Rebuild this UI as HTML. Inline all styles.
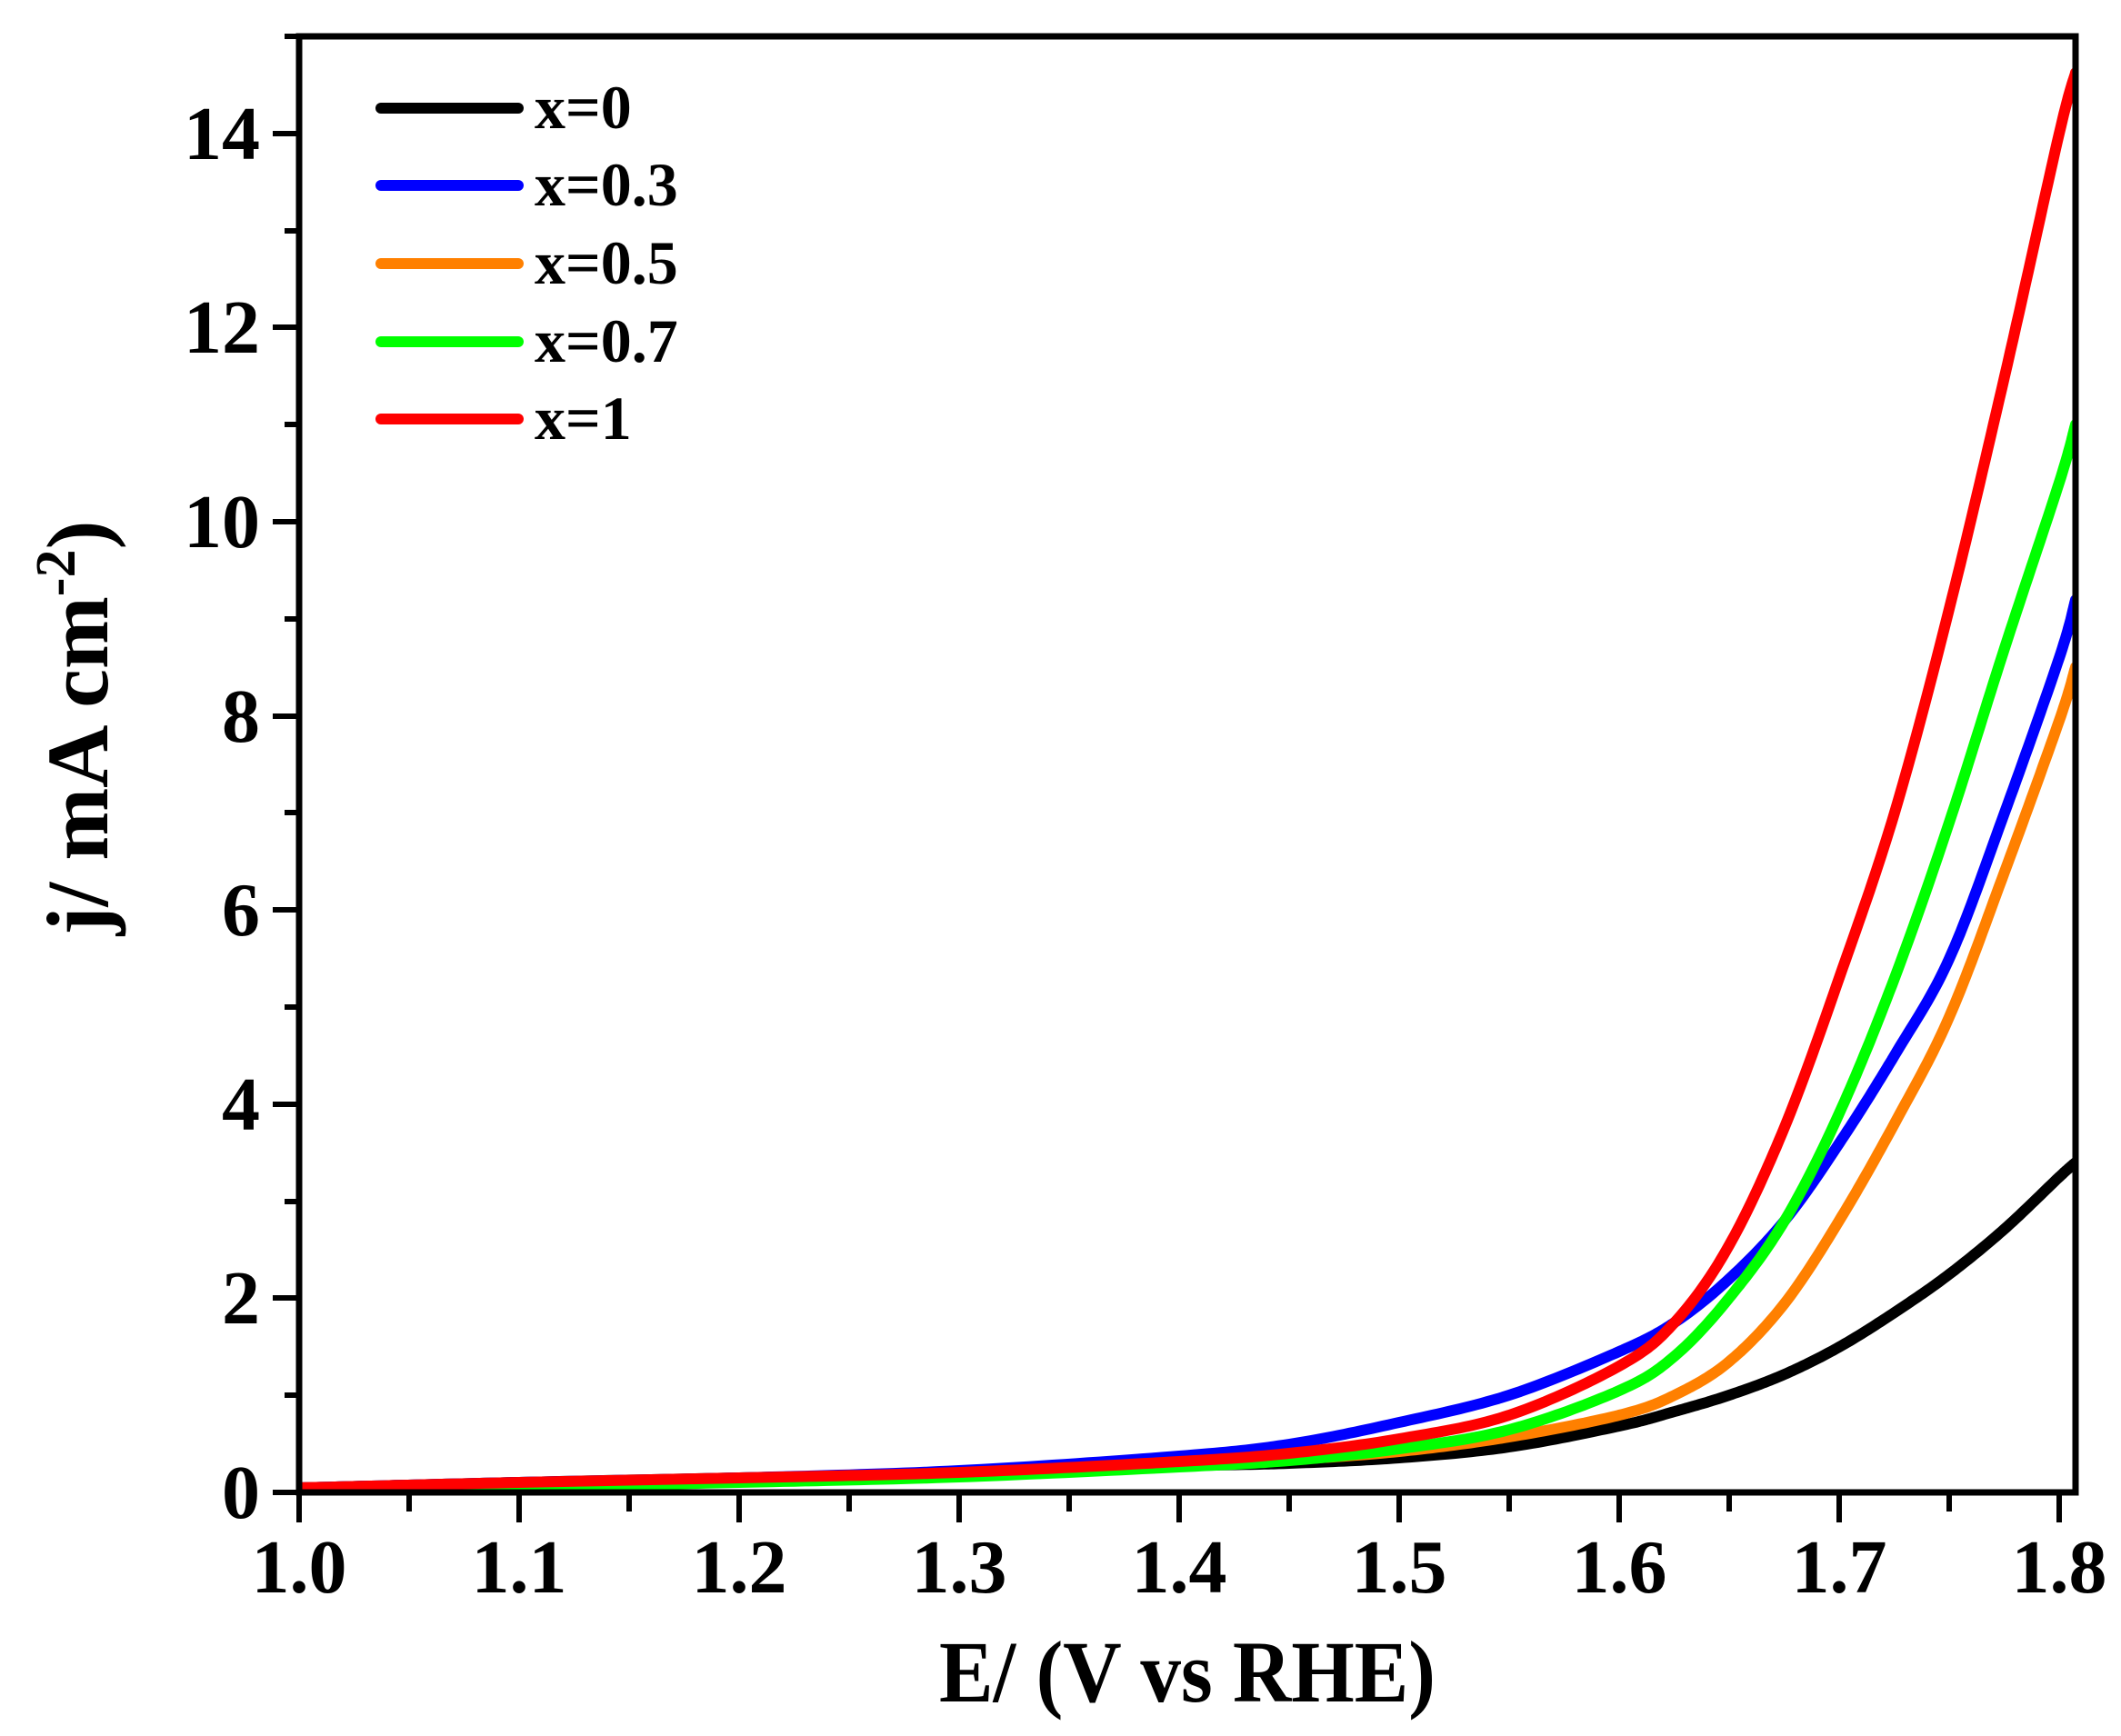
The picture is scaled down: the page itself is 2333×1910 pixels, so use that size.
<!DOCTYPE html>
<html><head><meta charset="utf-8"><style>
html,body{margin:0;padding:0;background:#fff;}
svg{display:block;}
text{font-family:"Liberation Serif",serif;font-weight:bold;fill:#000;}
</style></head><body>
<svg width="2333" height="1910" viewBox="0 0 2333 1910" xmlns="http://www.w3.org/2000/svg">
<defs><clipPath id="c"><rect x="329" y="40" width="1954" height="1602"/></clipPath></defs>
<g clip-path="url(#c)" fill="none" stroke-width="12" stroke-linejoin="round" stroke-linecap="round">
<polyline class="s" stroke="#000" points="329,1637 571,1631 813,1626 1055,1621 1297,1613 1418,1610 1539,1604 1660,1592 1781,1569 1842,1553 1902,1535 1963,1512 2023,1482 2084,1444 2144,1402 2205,1352 2265,1295 2283,1279"/>
<polyline class="s" stroke="#0000ff" points="329,1637 571,1631 813,1626 1055,1618 1297,1602 1418,1589 1539,1565 1660,1535 1781,1487 1842,1455 1902,1407 1963,1343 2023,1258 2084,1161 2144,1055 2205,894 2265,724 2283,660"/>
<polyline class="s" stroke="#ff8000" points="329,1637 571,1633 813,1629 1055,1623 1297,1612 1418,1606 1539,1597 1660,1581 1781,1557 1842,1535 1902,1498 1963,1434 2023,1343 2084,1236 2144,1119 2205,959 2265,793 2283,734"/>
<polyline class="s" stroke="#00ff00" points="329,1639 571,1636 813,1631 1055,1625 1297,1614 1418,1607 1539,1594 1660,1573 1781,1530 1842,1492 1902,1428 1963,1343 2023,1225 2084,1076 2144,905 2205,713 2265,531 2283,467"/>
<polyline class="s" stroke="#ff0000" points="329,1637 571,1631 813,1626 1055,1620 1297,1608 1418,1599 1539,1583 1660,1557 1781,1503 1842,1455 1902,1370 1963,1240 2023,1076 2084,894 2144,670 2205,414 2265,147 2283,80"/>
</g>
<rect x="329" y="40" width="1954" height="1602" fill="none" stroke="#000" stroke-width="7"/>
<g stroke="#000" stroke-width="6">
<line x1="329" y1="1642" x2="329" y2="1675"/><line x1="450" y1="1642" x2="450" y2="1663"/>
<line x1="571" y1="1642" x2="571" y2="1675"/><line x1="692" y1="1642" x2="692" y2="1663"/>
<line x1="813" y1="1642" x2="813" y2="1675"/><line x1="934" y1="1642" x2="934" y2="1663"/>
<line x1="1055" y1="1642" x2="1055" y2="1675"/><line x1="1176" y1="1642" x2="1176" y2="1663"/>
<line x1="1297" y1="1642" x2="1297" y2="1675"/><line x1="1418" y1="1642" x2="1418" y2="1663"/>
<line x1="1539" y1="1642" x2="1539" y2="1675"/><line x1="1660" y1="1642" x2="1660" y2="1663"/>
<line x1="1781" y1="1642" x2="1781" y2="1675"/><line x1="1902" y1="1642" x2="1902" y2="1663"/>
<line x1="2023" y1="1642" x2="2023" y2="1675"/><line x1="2144" y1="1642" x2="2144" y2="1663"/>
<line x1="2265" y1="1642" x2="2265" y2="1675"/>
<line x1="300" y1="1642" x2="329" y2="1642"/><line x1="313" y1="1535" x2="329" y2="1535"/>
<line x1="300" y1="1428" x2="329" y2="1428"/><line x1="313" y1="1322" x2="329" y2="1322"/>
<line x1="300" y1="1215" x2="329" y2="1215"/><line x1="313" y1="1108" x2="329" y2="1108"/>
<line x1="300" y1="1001" x2="329" y2="1001"/><line x1="313" y1="894" x2="329" y2="894"/>
<line x1="300" y1="788" x2="329" y2="788"/><line x1="313" y1="681" x2="329" y2="681"/>
<line x1="300" y1="574" x2="329" y2="574"/><line x1="313" y1="467" x2="329" y2="467"/>
<line x1="300" y1="360" x2="329" y2="360"/><line x1="313" y1="254" x2="329" y2="254"/>
<line x1="300" y1="147" x2="329" y2="147"/><line x1="313" y1="40" x2="329" y2="40"/>
</g>
<g font-size="84" text-anchor="middle">
<text x="329" y="1752">1.0</text><text x="571" y="1752">1.1</text><text x="813" y="1752">1.2</text>
<text x="1055" y="1752">1.3</text><text x="1297" y="1752">1.4</text><text x="1539" y="1752">1.5</text>
<text x="1781" y="1752">1.6</text><text x="2023" y="1752">1.7</text><text x="2265" y="1752">1.8</text>
</g>
<g font-size="84" text-anchor="end">
<text x="286" y="1670">0</text><text x="286" y="1456">2</text><text x="286" y="1243">4</text>
<text x="286" y="1029">6</text><text x="286" y="816">8</text><text x="286" y="602">10</text>
<text x="286" y="388">12</text><text x="286" y="175">14</text>
</g>
<text x="1306" y="1872" font-size="96" text-anchor="middle" textLength="546" lengthAdjust="spacingAndGlyphs">E/ (V vs RHE)</text>
<text transform="translate(118,801) rotate(-90)" font-size="96" text-anchor="middle">j/ mA cm<tspan font-size="62" dy="-36">-2</tspan><tspan dy="36">)</tspan></text>
<g stroke-width="12" stroke-linecap="round">
<line x1="419" y1="119" x2="570" y2="119" stroke="#000"/>
<line x1="419" y1="204" x2="570" y2="204" stroke="#0000ff"/>
<line x1="419" y1="290" x2="570" y2="290" stroke="#ff8000"/>
<line x1="419" y1="376" x2="570" y2="376" stroke="#00ff00"/>
<line x1="419" y1="461" x2="570" y2="461" stroke="#ff0000"/>
</g>
<g font-size="68">
<text x="588" y="141">x=0</text><text x="588" y="226">x=0.3</text><text x="588" y="312">x=0.5</text>
<text x="588" y="398">x=0.7</text><text x="588" y="483">x=1</text>
</g>
</svg>
<script>
document.querySelectorAll('polyline.s').forEach(function(pl){
  var p=pl.getAttribute('points').trim().split(/\s+/).map(function(s){return s.split(',').map(Number);});
  var out=[];
  for(var i=0;i<p.length-1;i++){
    var p0=p[Math.max(i-1,0)],p1=p[i],p2=p[i+1],p3=p[Math.min(i+2,p.length-1)];
    for(var k=0;k<20;k++){
      var t=k/20,t2=t*t,t3=t2*t;
      var f=function(a,b,c,d){return 0.5*((2*b)+(-a+c)*t+(2*a-5*b+4*c-d)*t2+(-a+3*b-3*c+d)*t3);};
      out.push(f(p0[0],p1[0],p2[0],p3[0]).toFixed(1)+','+f(p0[1],p1[1],p2[1],p3[1]).toFixed(1));
    }
  }
  out.push(p[p.length-1].join(','));
  pl.setAttribute('points',out.join(' '));
});
</script>
</body></html>
